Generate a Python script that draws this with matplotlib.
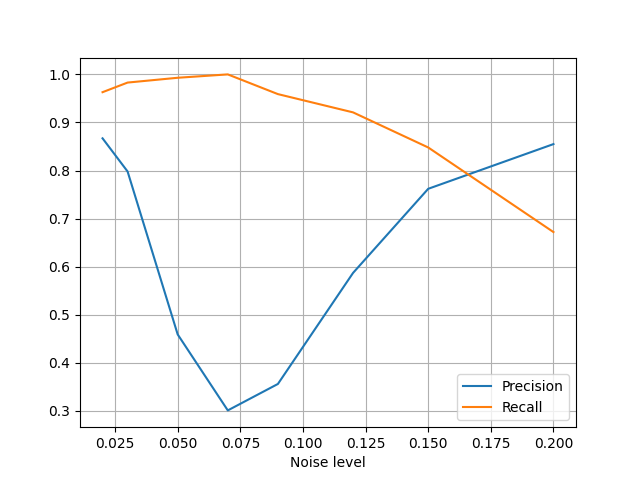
import matplotlib
matplotlib.use("Agg")
import matplotlib.pyplot as plt

noise_levels = [0.02, 0.03, 0.05, 0.07, 0.09, 0.12, 0.15, 0.20]
precision = [0.867, 0.798, 0.459, 0.301, 0.356, 0.587, 0.762, 0.855]
recall = [0.963, 0.983, 0.993, 1.0, 0.959, 0.921, 0.848, 0.672]


def main():
    plt.figure(figsize=(6.4, 4.8), dpi=100)
    plt.plot(noise_levels, precision, label="Precision")
    plt.plot(noise_levels, recall, label="Recall")
    plt.xlabel("Noise level")
    plt.grid(True)
    plt.legend(loc="lower right")
    plt.savefig("out.png")


if __name__ == "__main__":
    main()
